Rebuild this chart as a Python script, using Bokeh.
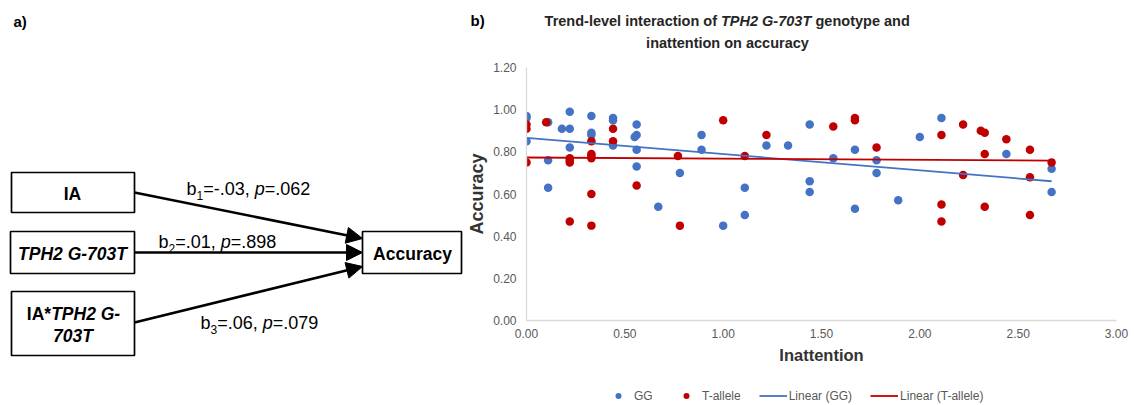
import numpy as np
from bokeh.plotting import figure
from bokeh.layouts import row, column
from bokeh.models import (Range1d, Arrow, NormalHead, Legend, LegendItem,
                          FixedTicker, NumeralTickFormatter)
from bokeh.core.properties import value
from bokeh.embed import file_html
from bokeh.resources import INLINE

# ---------------- data ----------------
gg_x = [0.00, 0.00, 0.00, 0.11, 0.11, 0.11, 0.18, 0.22, 0.22, 0.22,
        0.33, 0.33, 0.33, 0.44, 0.44, 0.44, 0.55, 0.56, 0.56, 0.56,
        0.56, 0.67, 0.78, 0.89, 0.89, 1.00, 1.11, 1.11, 1.22, 1.33,
        1.44, 1.44, 1.44, 1.56, 1.67, 1.67, 1.78, 1.78, 1.89, 2.00,
        2.11, 2.44, 2.67, 2.67]
gg_y = [0.97, 0.96, 0.85, 0.94, 0.76, 0.63, 0.91, 0.99, 0.91, 0.82,
        0.97, 0.89, 0.88, 0.96, 0.95, 0.83, 0.87, 0.88, 0.93, 0.81,
        0.73, 0.54, 0.70, 0.88, 0.81, 0.45, 0.63, 0.50, 0.83, 0.83,
        0.93, 0.66, 0.61, 0.77, 0.81, 0.53, 0.76, 0.70, 0.57, 0.87,
        0.96, 0.79, 0.72, 0.61]
t_x = [0.00, 0.00, 0.00, 0.10, 0.22, 0.22, 0.22, 0.22, 0.33, 0.33,
       0.33, 0.33, 0.33, 0.33, 0.44, 0.44, 0.56, 0.77, 0.78, 1.00,
       1.11, 1.22, 1.56, 1.67, 1.67, 1.78, 2.11, 2.11, 2.11, 2.22,
       2.22, 2.31, 2.33, 2.33, 2.33, 2.44, 2.56, 2.56, 2.56, 2.67]
t_y = [0.93, 0.91, 0.75, 0.94, 0.77, 0.76, 0.75, 0.47, 0.85, 0.79,
       0.78, 0.77, 0.60, 0.45, 0.91, 0.85, 0.64, 0.78, 0.45, 0.95,
       0.78, 0.88, 0.92, 0.96, 0.95, 0.82, 0.88, 0.55, 0.47, 0.93,
       0.69, 0.90, 0.89, 0.79, 0.54, 0.86, 0.81, 0.68, 0.50, 0.75]

series_labels = ["GG", "T-allele", "Linear (GG)", "Linear (T-allele)"]
x_ticks = [0.0, 0.5, 1.0, 1.5, 2.0, 2.5, 3.0]
y_ticks = [0.0, 0.2, 0.4, 0.6, 0.8, 1.0, 1.2]
title_parts = ["Trend-level interaction of", "TPH2 G-703T", "genotype and"]
title_line2 = "inattention on accuracy"
x_label = "Inattention"
y_label = "Accuracy"

path_coef = ["-.03", ".01", ".06"]
path_p = [".062", ".898", ".079"]

FONT = "Liberation Sans"
BLUE = "#4472C4"
RED = "#C00000"
GRAY = "#595959"

# Arial / Liberation Sans advance widths (em)
W_REG = {' ': .278, '.': .278, ',': .278, '-': .333, '=': .584, 'b': .556, 'p': .556}
W_BOLD = {'I': .278, 'A': .722, '*': .389, 'T': .611, 'P': .667, 'H': .722,
          'G': .778, ' ': .278, '-': .333}


def tw(s, size, bold=False):
    tab = W_BOLD if bold else W_REG
    return sum(tab.get(c, .556) for c in s) * size


def txt(fig, x, y, s, size, style="normal", align="left", color="black"):
    fig.text(x=[x], y=[y], text=[s], text_font=value(FONT),
             text_font_size=value(f"{size}px"), text_font_style=style,
             text_align=align, text_baseline="middle", text_color=color)


def bare(fig):
    fig.grid.visible = False
    fig.outline_line_color = None
    fig.background_fill_color = "white"
    fig.border_fill_color = "white"


# ---------------- top strip: panel letters and title ----------------
ft = figure(width=1134, height=60, x_range=Range1d(0, 1134), y_range=Range1d(60, 0),
            output_backend="svg", toolbar_location=None, min_border=0,
            x_axis_location=None, y_axis_location=None)
bare(ft)
TS = 14.5
TC = "#262626"
txt(ft, 13, 21, "a)", 15, style="bold")
txt(ft, 470, 20, "b)", 15, style="bold")
txt(ft, 716.5, 20, title_parts[0], TS, style="bold", align="right", color=TC)
txt(ft, 720.5, 20, title_parts[1], TS, style="bold italic", color=TC)
txt(ft, 815, 20, title_parts[2], TS, style="bold", color=TC)
txt(ft, 727, 42, title_line2, TS, style="bold", align="center", color=TC)

# ---------------- panel a: path diagram ----------------
AW = 463
fa = figure(width=AW, height=345, x_range=Range1d(0, AW), y_range=Range1d(405, 60),
            output_backend="svg", toolbar_location=None, min_border=0,
            x_axis_location=None, y_axis_location=None)
bare(fa)

fa.quad(left=[11, 10, 11, 362], right=[134, 134, 134, 461],
        top=[172, 231, 291, 231], bottom=[212, 273, 355, 273],
        fill_color="white", line_color="black", line_width=1.7)

BS = 17.5
txt(fa, 72, 193, "IA", BS, style="bold", align="center")
txt(fa, 72, 253, "TPH2 G-703T", BS, style="bold italic", align="center")
w1 = tw("IA*", BS, True)
w2 = tw("TPH2 G-", BS, True)
x0 = 73 - (w1 + w2) / 2
txt(fa, x0, 313, "IA*", BS, style="bold")
txt(fa, x0 + w1, 313, "TPH2 G-", BS, style="bold italic")
txt(fa, 72.5, 335, "703T", BS, style="bold italic", align="center")
txt(fa, 412, 253, "Accuracy", BS, style="bold", align="center")

arrow_starts = [(134, 192), (134, 252), (134, 322)]
arrow_ends = [(362, 238), (362, 252), (362, 266)]
for (xs, ys), (xe, ye) in zip(arrow_starts, arrow_ends):
    fa.add_layout(Arrow(end=NormalHead(size=16, fill_color="black", line_color="black",
                                       line_width=1),
                        x_start=xs, y_start=ys, x_end=xe, y_end=ye,
                        line_width=2.5, line_color="black"))

LS = 18
SS = 12
label_pos = [(186, 188), (158, 241), (200, 322)]
for i, ((lx, ly), c, pv) in enumerate(zip(label_pos, path_coef, path_p)):
    x = lx
    txt(fa, x, ly, "b", LS)
    x += tw("b", LS)
    txt(fa, x, ly + 7, str(i + 1), SS)
    x += tw(str(i + 1), SS)
    s = "=" + c + ", "
    txt(fa, x, ly, s, LS)
    x += tw(s, LS)
    txt(fa, x, ly, "p", LS, style="italic")
    x += tw("p", LS)
    txt(fa, x, ly, "=" + pv, LS)

# ---------------- panel b: scatter plot ----------------
BW = 1134 - AW
BL = 526 - AW  # left border so that the frame starts at x=526
p = figure(width=BW, height=315, x_range=Range1d(0, 3), y_range=Range1d(0, 1.2),
           output_backend="svg", toolbar_location=None,
           min_border_left=BL, min_border_right=18, min_border_top=7,
           min_border_bottom=55)
bare(p)

r_gg = p.scatter(gg_x, gg_y, size=8.5, fill_color=BLUE, line_color=None)
r_t = p.scatter(t_x, t_y, size=8.5, fill_color=RED, line_color=None)

gg_fit = np.polyfit(gg_x, gg_y, 1)
t_fit = np.polyfit(t_x, t_y, 1)
gg_lx = [min(gg_x), max(gg_x)]
t_lx = [min(t_x), max(t_x)]
gg_ly = list(np.polyval(gg_fit, gg_lx))
t_ly = list(np.polyval(t_fit, t_lx))
p.line(gg_lx, gg_ly, line_color=BLUE, line_width=1.8)
p.line(t_lx, t_ly, line_color=RED, line_width=1.8)

for ax in (p.xaxis[0], p.yaxis[0]):
    ax.axis_line_color = "#d9d9d9"
    ax.axis_line_width = 1.3
    ax.major_tick_line_color = None
    ax.minor_tick_line_color = None
    ax.major_tick_out = 0
    ax.major_tick_in = 0
    ax.minor_tick_out = 0
    ax.minor_tick_in = 0
    ax.major_label_text_color = GRAY
    ax.major_label_text_font = FONT
    ax.major_label_text_font_size = "12px"
    ax.formatter = NumeralTickFormatter(format="0.00")
    ax.axis_label_text_font = FONT
    ax.axis_label_text_font_style = "bold"
    ax.axis_label_text_color = "#333333"

p.xaxis.ticker = FixedTicker(ticks=x_ticks)
p.yaxis.ticker = FixedTicker(ticks=y_ticks)
p.xaxis.axis_label = x_label
p.yaxis.axis_label = y_label
p.xaxis.axis_label_text_font_size = "16.5px"
p.yaxis.axis_label_text_font_size = "18px"
p.xaxis.major_label_standoff = 8
p.yaxis.major_label_standoff = 10
p.xaxis.axis_label_standoff = 5
p.yaxis.axis_label_standoff = 3

# ---------------- legend strip (series drawn out of view, legend only) ----------------
fl = figure(width=BW, height=30, x_range=Range1d(0, 3), y_range=Range1d(-10, -9),
            output_backend="svg", toolbar_location=None,
            min_border_left=BL, min_border_right=18, min_border_top=0,
            min_border_bottom=0, x_axis_location=None, y_axis_location=None)
bare(fl)
l_gg = fl.scatter(gg_x, gg_y, size=8.5, fill_color=BLUE, line_color=None)
l_t = fl.scatter(t_x, t_y, size=8.5, fill_color=RED, line_color=None)
l_lgg = fl.line(gg_lx, gg_ly, line_color=BLUE, line_width=1.8)
l_lt = fl.line(t_lx, t_ly, line_color=RED, line_width=1.8)

legend = Legend(items=[LegendItem(label=series_labels[0], renderers=[l_gg]),
                       LegendItem(label=series_labels[1], renderers=[l_t]),
                       LegendItem(label=series_labels[2], renderers=[l_lgg]),
                       LegendItem(label=series_labels[3], renderers=[l_lt])],
                orientation="horizontal", location=(78, 2),
                glyph_width=28, glyph_height=15, label_height=15,
                label_standoff=2, spacing=18, padding=0, margin=0,
                border_line_color=None, background_fill_alpha=0,
                label_text_font=FONT, label_text_font_size="12px",
                label_text_color=GRAY)
fl.add_layout(legend)

layout = column(ft, row(fa, column(p, fl, spacing=0), spacing=0), spacing=0)

with open("out.html", "w") as f:
    f.write(file_html(layout, INLINE))
